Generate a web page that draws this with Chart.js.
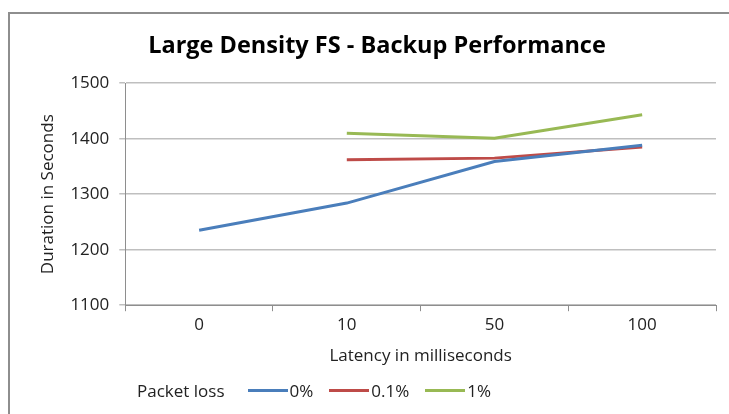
<!DOCTYPE html>
<html>
<head>
<meta charset="utf-8">
<script src="https://cdn.jsdelivr.net/npm/chart.js@4"></script>
<style>
  body { margin: 0; background: #fff; }
  #wrap { position: relative; width: 729px; height: 414px; overflow: hidden; }
  #frame { position: absolute; left: 8px; top: 12px; width: 800px; height: 500px;
           border-top: 2px solid #8e8e8e; border-left: 2px solid #8e8e8e; }
  #legend { position: absolute; left: 137px; top: 378px; height: 24px; display: flex; align-items: center;
            font-family: "Open Sans", sans-serif; font-size: 17px; color: #222; }
  #legend .item { display: flex; align-items: center; margin-left: 16px; }
  #legend .swatch { width: 40px; height: 3px; margin-right: 2px; }
</style>
</head>
<body>
<div id="wrap">
  <div id="frame"></div>
  <canvas id="chart" width="729" height="414"></canvas>
  <div id="legend"></div>
</div>
<script>
const latencies = ["0", "10", "50", "100"];
const loss0 = [1235, 1284, 1359, 1388];
const loss01 = [null, 1362, 1365, 1385];
const loss1 = [null, 1410, 1401, 1443];
const seriesNames = ["0%", "0.1%", "1%"];
const colors = ["#4a7ebb", "#be4b48", "#98b954"];
const yTicks = [1100, 1200, 1300, 1400, 1500];

const font = "'Open Sans', sans-serif";

const chart = new Chart(document.getElementById("chart"), {
  type: "line",
  data: {
    labels: latencies,
    datasets: [loss0, loss01, loss1].map((data, i) => ({
      label: seriesNames[i],
      data,
      borderColor: colors[i],
      backgroundColor: colors[i],
      borderWidth: 3,
      pointRadius: 0,
      tension: 0
    }))
  },
  options: {
    responsive: false,
    animation: false,
    layout: { padding: { top: 14, right: 13, bottom: 48, left: 38 } },
    plugins: {
      legend: { display: false },
      tooltip: { enabled: false },
      title: {
        display: true,
        text: "Large Density FS - Backup Performance",
        color: "#000",
        font: { family: font, size: 23.5, weight: "bold" },
        padding: { top: 18, bottom: 23 }
      }
    },
    scales: {
      x: {
        offset: true,
        grid: { display: true, drawOnChartArea: false, offset: true, tickLength: 6, color: "#8e8e8e" },
        border: { color: "#8e8e8e" },
        ticks: { color: "#222", font: { family: font, size: 17 }, padding: 4 },
        title: { display: true, text: "Latency in milliseconds", color: "#222",
                 font: { family: font, size: 17 }, padding: { top: 6, bottom: 0 } }
      },
      y: {
        min: 1100,
        max: 1500,
        afterBuildTicks: axis => { axis.ticks = yTicks.map(v => ({ value: v })); },
        grid: { color: "#bfbfbf", tickLength: 6, lineWidth: 1.5 },
        border: { color: "#8e8e8e" },
        ticks: { color: "#222", font: { family: font, size: 17 }, padding: 10,
                 callback: v => String(v) },
        title: { display: true, text: "Duration in Seconds", color: "#222",
                 font: { family: font, size: 17 }, padding: { top: 0, bottom: 2 } }
      }
    }
  }
});

// html legend built from the chart's datasets
const legend = document.getElementById("legend");
const head = document.createElement("span");
head.textContent = "Packet loss";
head.style.marginRight = "7px";
legend.appendChild(head);
chart.data.datasets.forEach(ds => {
  const item = document.createElement("span");
  item.className = "item";
  const sw = document.createElement("span");
  sw.className = "swatch";
  sw.style.background = ds.borderColor;
  const txt = document.createElement("span");
  txt.textContent = ds.label;
  item.appendChild(sw);
  item.appendChild(txt);
  legend.appendChild(item);
});
</script>
</body>
</html>
